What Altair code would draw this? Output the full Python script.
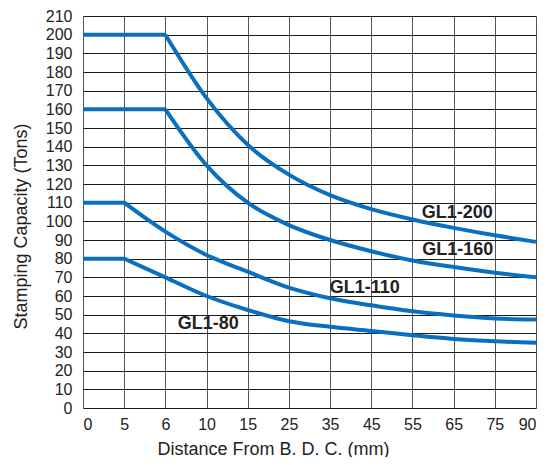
import altair as alt
import pandas as pd

# Category tick labels (evenly spaced positions on the x axis)
x_labels = ["0", "5", "6", "10", "15", "25", "35", "45", "55", "65", "75", "90"]
x_pos = list(range(len(x_labels)))

# Series values (tons), one per x tick
gl200 = [200, 200, 200, 166, 141, 125, 114, 106.5, 101, 96.5, 92.5, 89]
gl160 = [160, 160, 160, 130, 110, 98, 90, 84, 79, 75.5, 72.5, 70]
gl110 = [110, 110, 94.5, 82, 73, 64.5, 58.8, 55, 51.8, 49.6, 48, 47.4]
gl80 = [80, 80, 70, 60, 52.5, 46.5, 43.5, 41.3, 39, 37, 35.7, 35]

series_names = ["GL1-200", "GL1-160", "GL1-110", "GL1-80"]
series_vals = [gl200, gl160, gl110, gl80]
# index where the flat section ends and the curve begins
knee = [2, 2, 1, 1]

# label annotations (x position in tick index units, y in tons)
lab_text = ["GL1-200", "GL1-160", "GL1-110", "GL1-80"]
lab_x = [9.09, 9.1, 6.84, 3.04]
lab_y = [104.5, 84.6, 64.5, 44.9]

rows = []
for name, vals, k in zip(series_names, series_vals, knee):
    for i, (xp, v) in enumerate(zip(x_pos, vals)):
        if i <= k:
            rows.append({"series": name, "seg": name + "-flat", "xi": xp, "tons": v})
        if i >= k:
            rows.append({"series": name, "seg": name + "-curve", "xi": xp, "tons": v})
df = pd.DataFrame(rows)
labels_df = pd.DataFrame({"label": lab_text, "xi": lab_x, "tons": lab_y})

FONT = "Liberation Sans"
label_expr = "[" + ",".join("'" + s + "'" for s in x_labels) + "][datum.value]"

x_axis = alt.Axis(
    title="Distance From B. D. C. (mm)",
    values=x_pos,
    labelExpr=label_expr,
    grid=True,
    gridColor="#555555",
    gridWidth=1,
    gridOpacity=1,
    domain=False,
    ticks=False,
    labelOverlap=False,
    labelPadding=8,
    labelFontSize=16,
    labelFont=FONT,
    labelColor="#222222",
    titleFont=FONT,
    titleFontSize=18,
    titleFontWeight="normal",
    titleColor="#222222",
    titleX=190,
    titleY=41,
    titleBaseline="middle",
    titleAlign="center",
)
y_axis = alt.Axis(
    title="Stamping Capacity (Tons)",
    values=list(range(0, 211, 10)),
    tickCount=22,
    grid=True,
    gridColor="#1a1a1a",
    gridWidth=1,
    gridOpacity=1,
    domain=False,
    ticks=False,
    labelOverlap=False,
    labelPadding=11,
    labelFontSize=16,
    labelFont=FONT,
    labelColor="#222222",
    titleFont=FONT,
    titleFontSize=18,
    titleFontWeight="normal",
    titleColor="#222222",
    titleX=-62,
    titleY=210,
    titleAngle=-90,
    titleBaseline="middle",
    titleAlign="center",
)
x_scale = alt.Scale(domain=[0, len(x_labels) - 1], nice=False, zero=False)
y_scale = alt.Scale(domain=[0, 210], nice=False)

lines = alt.Chart(df).mark_line(
    color="#0a6fbe", strokeWidth=4, interpolate="monotone", strokeCap="butt"
).encode(
    x=alt.X("xi:Q", scale=x_scale, axis=x_axis),
    y=alt.Y("tons:Q", scale=y_scale, axis=y_axis),
    detail="seg:N",
)

texts = alt.Chart(labels_df).mark_text(
    font=FONT, fontSize=18, fontWeight="bold", color="#222222",
    align="center", baseline="middle"
).encode(
    x=alt.X("xi:Q", scale=x_scale, axis=x_axis),
    y=alt.Y("tons:Q", scale=y_scale, axis=y_axis),
    text="label:N",
)

chart = (
    alt.layer(lines, texts)
    .properties(
        width=453,
        height=392,
        autosize=alt.AutoSizeParams(type="none"),
        padding={"left": 75, "top": 8, "right": 2, "bottom": 49},
    )
    .configure_view(stroke="#000000", strokeWidth=1.5)
    .configure(background="white")
)

chart.save("out.html", embed_options={"renderer": "svg", "actions": False})
